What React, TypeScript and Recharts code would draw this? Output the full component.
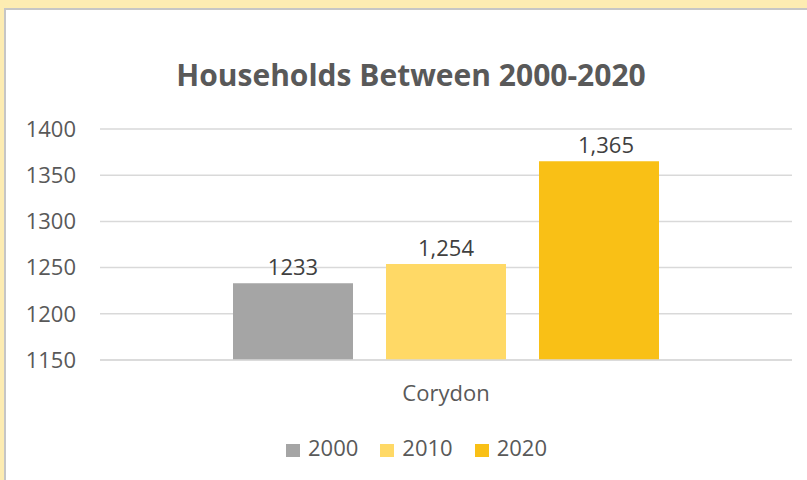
import React from 'react';
import { BarChart, Bar, XAxis, YAxis, CartesianGrid, LabelList } from 'recharts';

const categories = ['Corydon'];
const seriesYears = ['2000', '2010', '2020'];
const households = [1233, 1254, 1365];
const valueLabels = ['1233', '1,254', '1,365'];
const yTicks = [1150, 1200, 1250, 1300, 1350, 1400];

const seriesColors = ['#A5A5A5', '#FFD966', '#F9C016'];
const font = '"Open Sans", "Noto Sans", sans-serif';

// one row per category, one key per year
const data = categories.map((name) => {
  const row: Record<string, string | number> = { name };
  seriesYears.forEach((year, i) => {
    row['y' + year] = households[i];
  });
  return row;
});

const App: React.FC = () => {
  return (
    <div
      style={{
        position: 'fixed',
        left: 0,
        top: 0,
        width: 807,
        height: 480,
        background: '#FDECB2',
        overflow: 'hidden',
        fontFamily: font,
      }}
    >
      <div
        style={{
          position: 'absolute',
          left: 4,
          top: 8,
          right: 0,
          bottom: 0,
          background: '#fff',
          borderTop: '2px solid #C6C6C6',
          borderLeft: '2px solid #C6C6C6',
        }}
      />
      <div
        style={{
          position: 'absolute',
          left: 111,
          top: 60,
          width: 600,
          textAlign: 'center',
          fontSize: 30,
          lineHeight: 1,
          fontWeight: 700,
          color: '#595959',
        }}
      >
        Households Between 2000-2020
      </div>
      <div style={{ position: 'absolute', left: 0, top: 0 }}>
        <BarChart
          width={807}
          height={480}
          data={data}
          margin={{ top: 129, right: 15, bottom: 60, left: 0 }}
          barCategoryGap={133}
          barGap={33}
        >
          <CartesianGrid vertical={false} stroke="#D9D9D9" strokeWidth={1.5} />
          <XAxis
            dataKey="name"
            height={60}
            tickLine={false}
            axisLine={{ stroke: '#D9D9D9', strokeWidth: 1.5 }}
            tickMargin={19}
            tick={{ fill: '#595959', fontSize: 22, fontFamily: font }}
          />
          <YAxis
            width={100}
            domain={[1150, 1400]}
            ticks={yTicks}
            tickLine={false}
            axisLine={false}
            tickMargin={18}
            tick={{ fill: '#595959', fontSize: 22, fontFamily: font }}
          />
          {seriesYears.map((year, i) => (
            <Bar
              key={year}
              dataKey={'y' + year}
              name={year}
              fill={seriesColors[i]}
              isAnimationActive={false}
            >
              <LabelList
                position="top"
                offset={8}
                dx={i === 2 ? 7 : 0}
                formatter={() => valueLabels[i]}
                style={{ fill: '#404040', fontSize: 22, fontFamily: font }}
              />
            </Bar>
          ))}
        </BarChart>
      </div>
      <div
        style={{
          position: 'absolute',
          left: 286,
          top: 432,
          display: 'flex',
          alignItems: 'flex-start',
          height: 30,
          lineHeight: '30px',
          fontSize: 22,
          color: '#595959',
        }}
      >
        {seriesYears.map((year, i) => (
          <div key={year} style={{ display: 'flex', alignItems: 'flex-start', marginRight: i < seriesYears.length - 1 ? 22 : 0 }}>
            <span style={{ width: 14, height: 13, marginTop: 12, marginRight: 8, background: seriesColors[i] }} />
            <span>{year}</span>
          </div>
        ))}
      </div>
    </div>
  );
};

export default App;
